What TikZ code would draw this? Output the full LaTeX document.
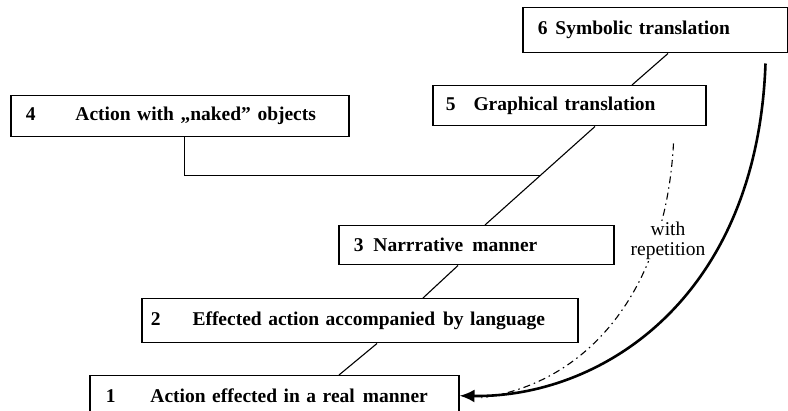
\documentclass[tikz,border=0pt]{standalone}
\usepackage{fontspec}
\setmainfont{Liberation Serif}
\usetikzlibrary{arrows.meta,calc}
\begin{document}
\begin{tikzpicture}[x=1pt,y=-1pt,
  box/.style={draw,line width=1.5pt,anchor=north west,align=left,inner ysep=0pt,
    font=\fontsize{19.5}{23}\selectfont\bfseries},
  conn/.style={line width=1.1pt},
  mainarrow/.style={line width=2.6pt,-{Latex[length=15pt,width=13pt]}},
  dashdot/.style={line width=1.1pt,dash pattern=on 7pt off 4pt on 1.5pt off 4pt},
  lbl/.style={font=\fontsize{19.5}{23}\selectfont,align=center,fill=white,inner sep=1pt}]
\useasboundingbox (0,0) rectangle (788,411);
% boxes
\node[box,inner xsep=15pt,text width=235pt,minimum height=45pt] (n6) at (522,7)
  {6\hspace{8pt}Symbolic translation};
\node[box,inner xsep=13pt,text width=247pt,minimum height=40pt] (n5) at (432,85)
  {5\hspace{18pt}Graphical translation};
\node[box,inner xsep=15pt,text width=308pt,minimum height=41pt] (n4) at (10,95)
  {4\hspace{40pt}Action with „naked” objects};
\node[box,inner xsep=15pt,text width=245pt,minimum height=39pt] (n3) at (338,225)
  {3\hspace{10pt}Narrrative\hspace{9pt}manner};
\node[box,inner xsep=9pt,text width=418pt,minimum height=44pt] (n2) at (141,298)
  {2\hspace{32pt}Effected action accompanied\hspace{8pt}by language};
\node[box,inner xsep=16pt,text width=337pt,minimum height=40pt] (n1) at (89,375)
  {1\hspace{35pt}Action effected in a real\hspace{8pt}manner};
% diagonal chain
\draw[conn] ($(n6.south west)+(146,0)$) -- ($(n5.north west)+(200,0)$);
\draw[conn] ($(n5.south west)+(163,0)$) -- ($(n3.north west)+(147,0)$);
\draw[conn] ($(n3.south west)+(120,0)$) -- ($(n2.north west)+(282,0)$);
\draw[conn] ($(n2.south west)+(236,0)$) -- ($(n1.north west)+(250,0)$);
% junction from box 4
\coordinate (j) at ($($(n5.south west)+(163,0)$)!0.5!($(n3.north west)+(147,0)$)$);
\draw[conn] ($(n4.south)+(5,0)$) |- (j);
% dash-dot return with label
\draw[dashdot] ($(n5.south east)+(-33,17)$) .. controls (665,300) and (580,385) .. ($(n1.east)+(22,2)$);
\node[lbl] (rep) at (668,241) {with\\[-3pt]repetition};
% thick return arrow
\draw[mainarrow] ($(n6.south east)+(-23,10)$) .. controls (757,300) and (600,398) .. (n1.east);
\end{tikzpicture}
\end{document}
